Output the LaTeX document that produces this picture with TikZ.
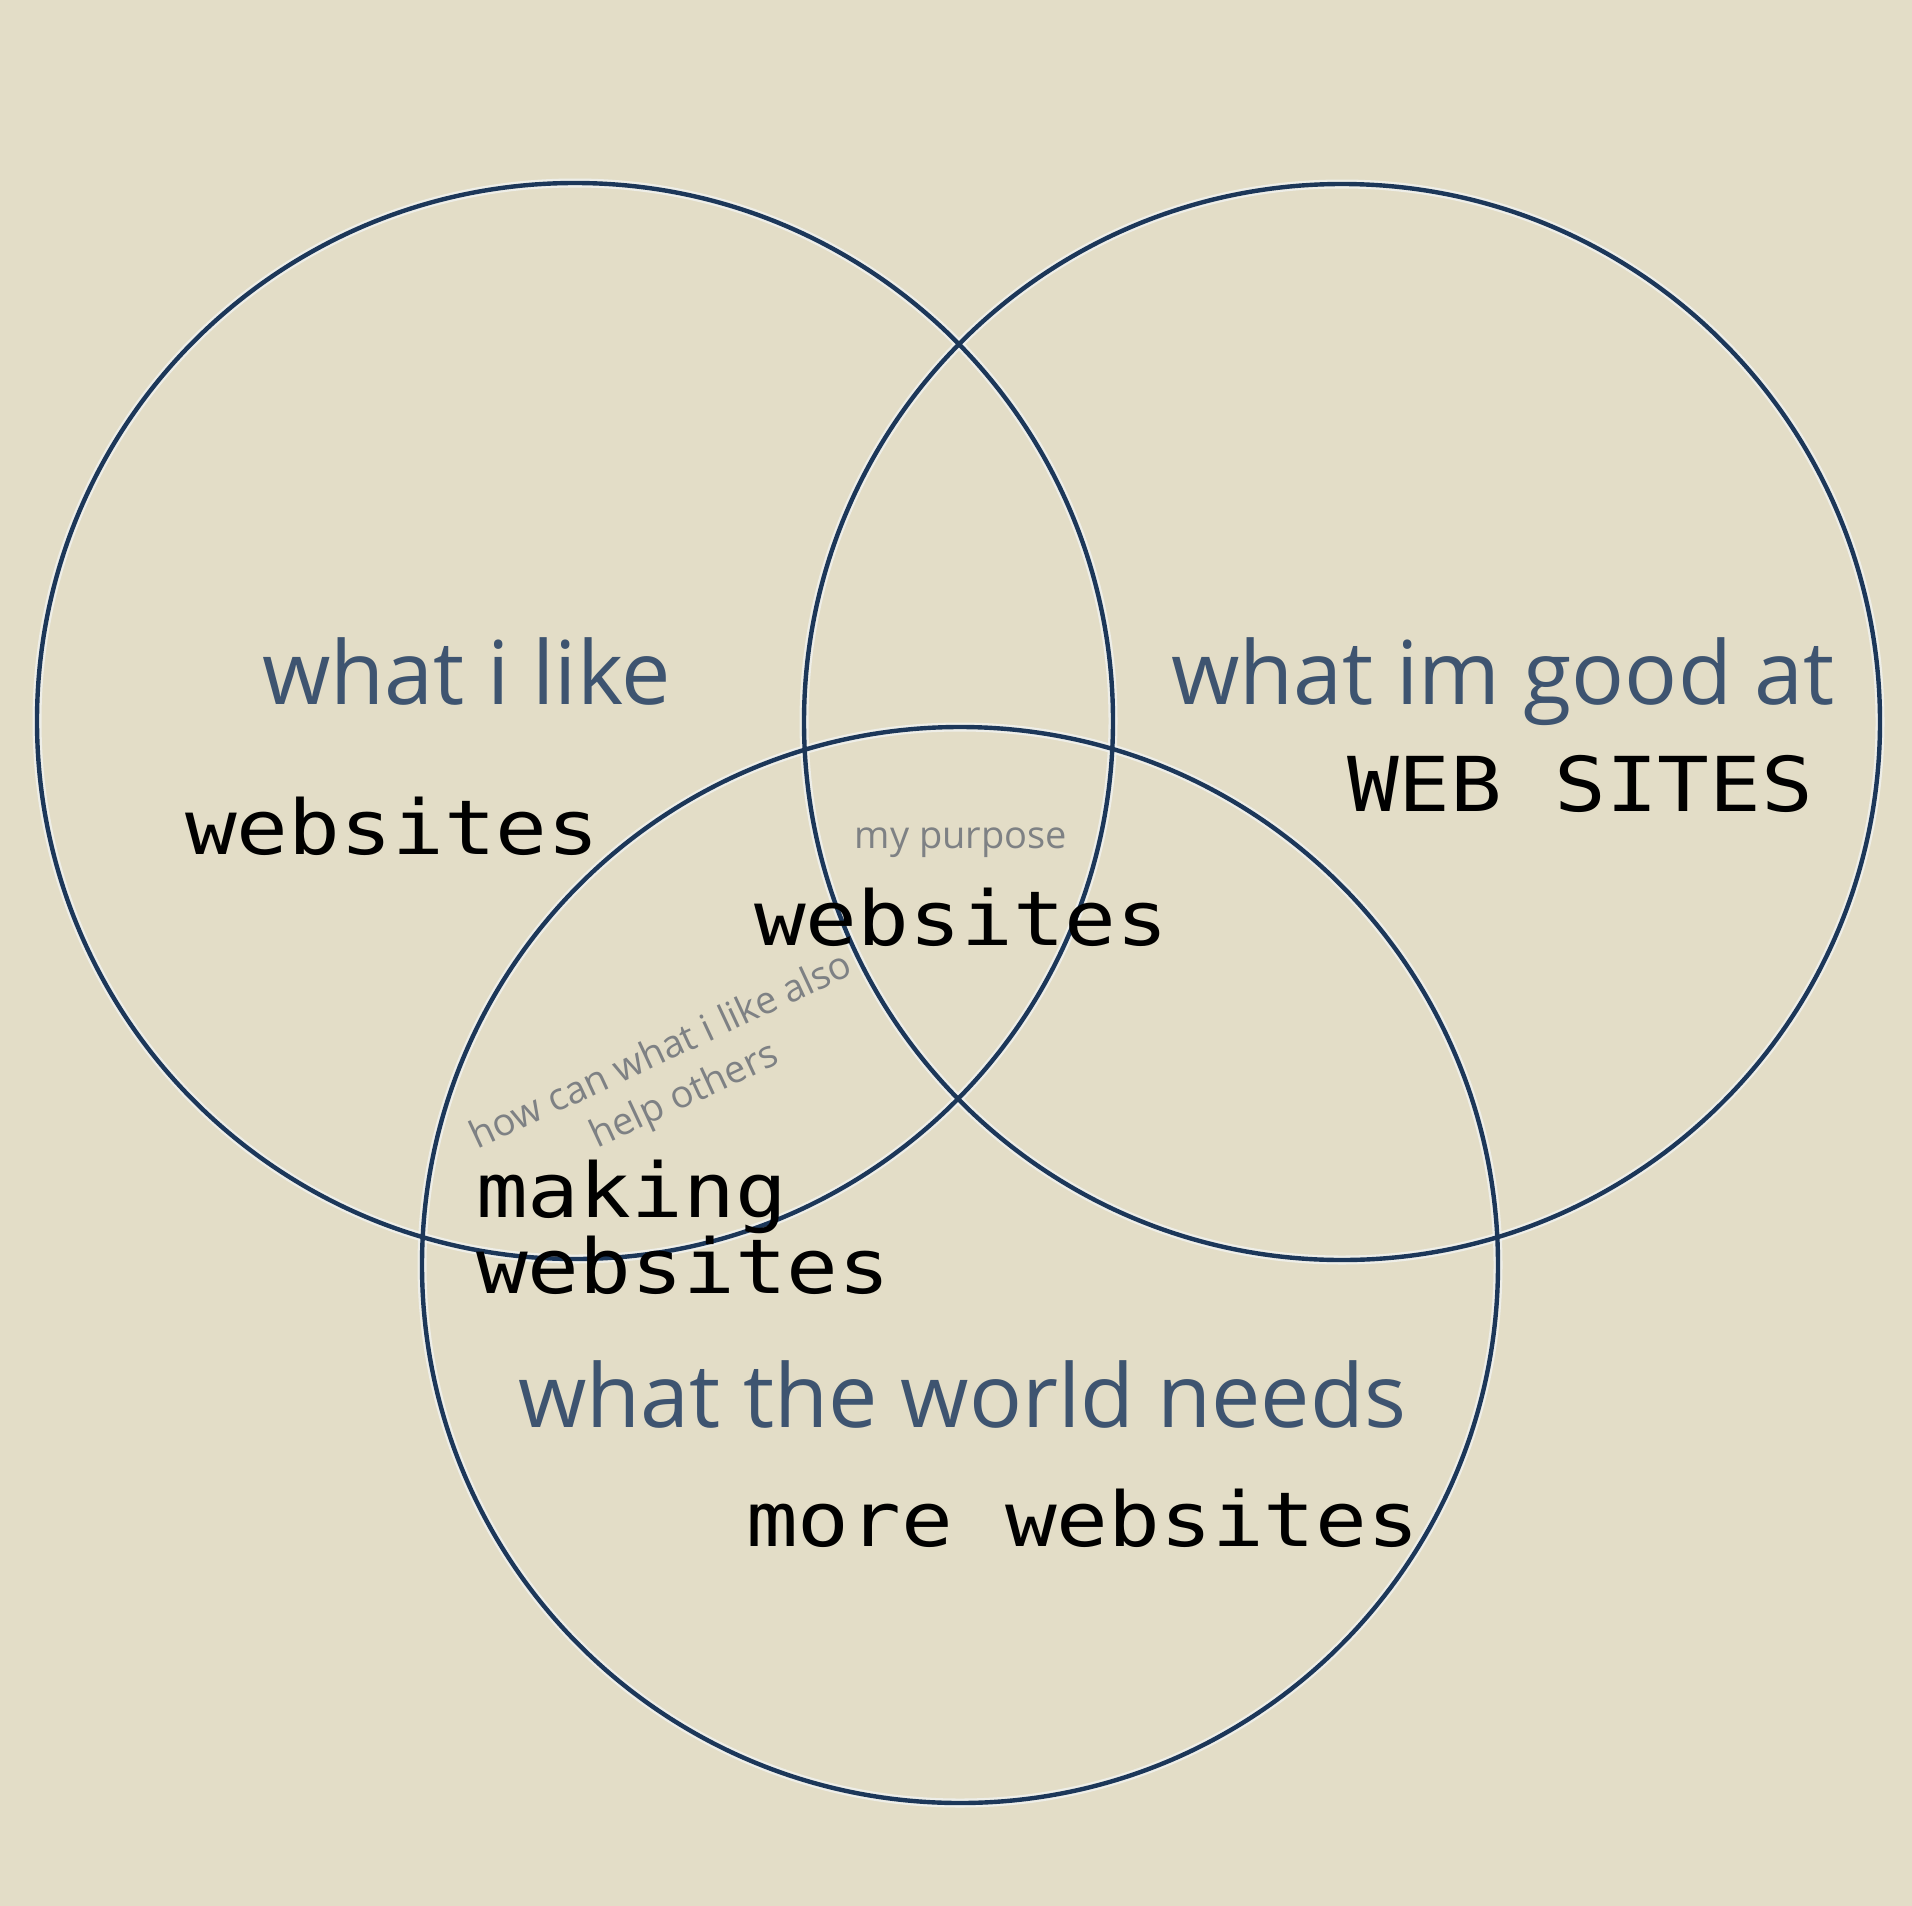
\documentclass[tikz,border=0pt]{standalone}
\usepackage{fontspec}
\setmainfont{Open Sans}
\newfontfamily\pixfont{DejaVu Sans Mono}
\definecolor{bgc}{HTML}{E3DDC7}
\definecolor{ringc}{HTML}{1C3759}
\definecolor{haloc}{HTML}{F2F4F4}
\definecolor{labc}{HTML}{3E5470}
\definecolor{smallc}{HTML}{7E8184}
\tikzset{
  ring/.style={circle, inner sep=0pt, outer sep=0pt, minimum size=1076pt},
  lab/.style={anchor=base west, inner sep=0pt, text=labc, font=\fontsize{88}{96}\selectfont},
  pix/.style={anchor=base west, inner sep=0pt, text=black, yscale=0.88, transform shape},
  small/.style={anchor=base, inner sep=0pt, text=smallc, font=\fontsize{38}{44}\selectfont},
}
\newcommand{\pixtext}[1]{{\pixfont\fontsize{86}{90}\selectfont #1}}
\begin{document}
\begin{tikzpicture}[x=1pt,y=-1pt]
\useasboundingbox (0,0) rectangle (1912,1906);
\fill[bgc] (0,0) rectangle (1912,1906);
% circles
\node[ring] (L) at (575,721) {};
\node[ring] (R) at (1342,722) {};
\node[ring] (B) at (960,1265) {};
\foreach \c in {L,R,B} {
  \draw[haloc, line width=9pt, opacity=0.75] (\c.center) circle[radius=538pt];
}
\foreach \c in {L,R,B} {
  \draw[ringc, line width=4.4pt] (\c.center) circle[radius=538pt];
}
% category labels
\node[lab] (tL) at (262,704) {what i like};
\node[lab] (tR) at (1171,704) {what im good at};
\node[lab] (tB) at (518,1427) {what the world needs};
\node[small] (tP) at (961,848) {my purpose};
\node[small, rotate=25] (tH1) at (666,1062) {how can what i like also};
\node[small, rotate=25] (tH2) at (689,1106) {help others};
% answers
\node[pix] (aL) at (185,854) {\pixtext{websites}};
\node[pix] (aR) at (1347,811) {\pixtext{WEB SITES}};
\node[pix] (aP) at (754,945) {\pixtext{websites}};
\node[pix] (aH1) at (476,1217) {\pixtext{making}};
\node[pix] (aH2) at (476,1293) {\pixtext{websites}};
\node[pix] (aB) at (746,1546) {\pixtext{more websites}};
\end{tikzpicture}
\end{document}
